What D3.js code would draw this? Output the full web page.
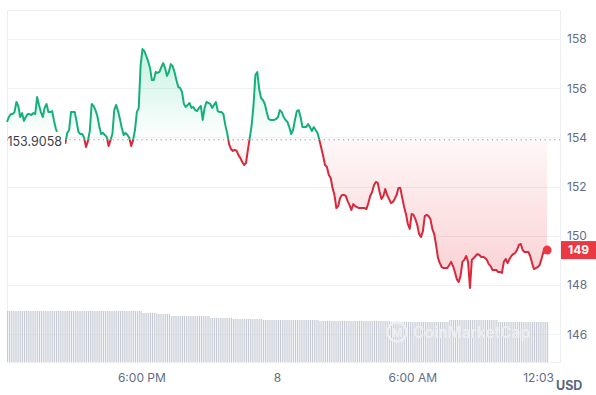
<!DOCTYPE html>
<html>
<head>
<meta charset="utf-8">
<script src="https://cdn.jsdelivr.net/npm/d3@7"></script>
<style>
body { margin: 0; background: #fff; }
svg { display: block; font-family: Inter, "Noto Sans", sans-serif; }
</style>
</head>
<body>
<div id="chart"></div>
<script>
// chart data
let startTime = new Date(2024, 5, 7, 12, 3);
let endTime = new Date(2024, 5, 8, 12, 3);
let stepMinutes = 5;
let openPrice = 153.9058;
let lastPriceLabel = '149';
let currency = 'USD';
let watermark = 'CoinMarketCap';

let priceTicks = [146, 148, 150, 152, 154, 156, 158];
let timeTicks = [
    new Date(2024, 5, 7, 18, 0),
    new Date(2024, 5, 8, 0, 0),
    new Date(2024, 5, 8, 6, 0),
    new Date(2024, 5, 8, 12, 3)
];
let timeTickLabels = ['6:00 PM', '8', '6:00 AM', '12:03 PM'];

// price every 5 minutes, one row per hour
let prices = [
    154.63,154.83,154.95,154.95,155.03,155.44,155.28,154.83,154.99,154.67,154.83,154.95,
    154.95,154.91,154.99,154.95,155.64,155.32,155.03,154.83,155.20,155.36,155.03,155.03,
    155.07,154.67,154.34,154.14,153.98,153.85,153.77,153.77,154.18,154.30,155.03,155.03,
    155.03,154.63,154.22,154.14,154.14,153.98,153.61,153.85,154.26,155.36,155.28,155.11,
    154.87,154.46,154.14,154.18,154.10,154.02,153.65,153.89,154.14,155.11,155.32,155.07,
    154.75,154.38,154.10,154.18,154.10,153.98,153.65,153.89,154.30,155.03,155.20,156.94,
    157.59,157.51,157.31,157.10,156.82,156.33,156.33,156.66,156.62,156.66,156.86,157.02,
    156.82,156.50,156.66,156.98,156.90,156.66,156.33,156.05,156.01,155.85,155.36,155.24,
    155.32,155.40,155.20,155.24,155.11,155.07,155.20,155.28,154.71,155.20,155.44,155.40,
    155.36,155.20,155.32,155.44,155.07,155.03,155.03,154.95,154.50,154.18,153.73,153.53,
    153.45,153.49,153.45,153.28,153.16,153.00,152.88,152.96,153.49,153.98,154.50,155.32,
    156.54,156.66,155.97,155.60,155.52,155.36,155.03,154.75,154.71,154.71,154.71,154.75,
    154.83,155.11,155.03,154.83,154.71,154.63,154.42,154.14,154.30,154.71,155.07,155.11,
    154.83,154.42,154.42,154.42,154.54,154.42,154.26,154.42,154.30,154.18,153.89,153.57,
    153.24,152.88,152.80,152.47,152.35,151.94,151.66,151.13,151.21,151.54,151.66,151.66,
    151.62,151.41,151.25,151.05,151.29,151.21,151.17,151.13,151.13,151.13,151.13,151.09,
    151.33,151.62,151.78,152.06,152.19,152.15,151.78,151.50,151.62,151.90,151.66,151.50,
    151.33,151.37,151.50,151.66,151.94,151.94,151.54,151.17,150.89,150.48,150.28,150.89,
    150.85,150.68,150.44,150.07,149.95,150.19,150.80,150.85,150.80,150.68,150.28,150.07,
    149.63,149.10,148.89,148.73,148.69,148.69,148.69,148.81,148.94,148.77,148.53,148.24,
    148.12,148.37,148.94,149.02,149.18,148.94,147.88,149.02,149.10,149.18,149.26,149.22,
    149.14,149.14,149.10,149.02,148.85,148.77,148.61,148.61,148.61,148.53,148.53,148.49,
    148.94,149.06,148.89,149.06,149.18,149.26,149.30,149.42,149.63,149.67,149.42,149.34,
    149.34,149.34,149.18,148.89,148.65,148.69,148.73,148.81,149.06,149.34,149.46,149.42
];

// volume bars every 5 minutes (arbitrary units)
let volumes = [
    51,51,51,51,51,51,51,51,51,51,51,51,
    51,51,51,51,51,51,51,51,51,51,51,51,
    51,51,51,51,51,51,51,51,51,51,51,51,
    51,51,51,51,51,51,51,51,51,51,51,51,
    51,51,51,51,51,51,51,51,51,51,51,51,
    51,51,51,51,51,51,51,51,51,51,51,51,
    49,49,49,49,49,49,49,49,48,48,48,48,
    48,48,48,46,46,46,46,46,46,46,46,46,
    46,46,46,46,46,46,46,46,46,46,46,46,
    44,44,44,44,44,44,44,44,44,44,44,44,
    43,43,43,43,43,43,43,43,43,43,43,43,
    43,43,43,43,42,42,42,42,42,42,42,42,
    42,42,42,42,42,42,42,42,42,42,42,42,
    42,42,42,42,42,42,42,42,42,42,41,41,
    41,41,41,41,41,41,41,41,41,41,41,41,
    41,41,41,41,41,41,41,41,41,41,41,41,
    41,41,41,41,41,41,41,41,41,41,41,41,
    40,40,40,40,40,40,40,40,40,40,40,40,
    40,40,40,40,40,40,40,40,40,40,40,40,
    40,40,40,40,40,40,40,42,42,42,42,42,
    42,42,42,42,42,42,42,42,42,42,42,42,
    42,42,42,42,42,42,42,42,42,40,40,40,
    40,40,40,40,40,40,40,40,40,40,40,40,
    40,40,40,40,40,40,40,40,40,40,40,40
];

let green = '#16c784';
let greenLine = '#14b07c';
let red = '#ea3943';
let redLine = '#d9283a';
let labelColor = '#616e85';

let svgWidth = 596;
let svgHeight = 395;
let plot = { left: 7, right: 560, top: 10, bottom: 362 };

let svg = d3.select('#chart')
    .append('svg')
    .attr('width', svgWidth)
    .attr('height', svgHeight);

let data = prices.map((p, i) => ({ t: d3.timeMinute.offset(startTime, i * stepMinutes), p: p }));
let volData = volumes.map((v, i) => ({ t: d3.timeMinute.offset(startTime, i * stepMinutes), v: v }));

let x = d3.scaleTime()
    .domain([startTime, endTime])
    .range([7, 549]);

let y = d3.scaleLinear()
    .domain([144.87, 159.18])
    .range([plot.bottom, plot.top]);

let yVol = d3.scaleLinear()
    .domain([0, 60])
    .range([plot.bottom, plot.bottom - 60]);

let yBase = y(openPrice);
let defs = svg.append('defs');

// clip above / below the open price
defs.append('clipPath').attr('id', 'clipUp')
    .append('rect').attr('x', 0).attr('y', 0).attr('width', svgWidth).attr('height', yBase);
defs.append('clipPath').attr('id', 'clipDown')
    .append('rect').attr('x', 0).attr('y', yBase).attr('width', svgWidth).attr('height', svgHeight - yBase);

let gUp = defs.append('linearGradient').attr('id', 'gradUp')
    .attr('gradientUnits', 'userSpaceOnUse')
    .attr('x1', 0).attr('x2', 0)
    .attr('y1', y(d3.max(prices))).attr('y2', yBase);
gUp.append('stop').attr('offset', 0).attr('stop-color', green).attr('stop-opacity', 0.24);
gUp.append('stop').attr('offset', 1).attr('stop-color', green).attr('stop-opacity', 0.0);

let gDown = defs.append('linearGradient').attr('id', 'gradDown')
    .attr('gradientUnits', 'userSpaceOnUse')
    .attr('x1', 0).attr('x2', 0)
    .attr('y1', yBase).attr('y2', y(d3.min(prices)));
gDown.append('stop').attr('offset', 0).attr('stop-color', red).attr('stop-opacity', 0.04);
gDown.append('stop').attr('offset', 1).attr('stop-color', red).attr('stop-opacity', 0.24);

// grid lines
svg.append('g')
    .selectAll('line')
    .data(priceTicks)
    .join('line')
    .attr('x1', plot.left)
    .attr('x2', plot.right)
    .attr('y1', d => Math.round(y(d)) + 0.5)
    .attr('y2', d => Math.round(y(d)) + 0.5)
    .attr('stroke', '#eff1f4');

svg.append('rect')
    .attr('x', plot.left + 0.5)
    .attr('y', plot.top + 0.5)
    .attr('width', plot.right - plot.left)
    .attr('height', plot.bottom - plot.top)
    .attr('fill', 'none')
    .attr('stroke', '#eceef2');

// volume bars
svg.append('g')
    .selectAll('rect')
    .data(volData)
    .join('rect')
    .attr('x', d => x(d.t))
    .attr('width', 1.1)
    .attr('y', d => yVol(d.v))
    .attr('height', d => plot.bottom - yVol(d.v))
    .attr('fill', '#c6cbd4');

// watermark
let wm = svg.append('g');
wm.append('circle')
    .attr('cx', 397).attr('cy', 332).attr('r', 9.5)
    .attr('fill', 'none').attr('stroke', '#eceef1').attr('stroke-width', 2.4);
wm.append('text')
    .attr('x', 397).attr('y', 336.5)
    .attr('text-anchor', 'middle')
    .attr('font-size', 12).attr('font-weight', 700)
    .attr('fill', '#eceef1')
    .text('M');
wm.append('text')
    .attr('x', 413).attr('y', 338)
    .attr('font-size', 15.5).attr('font-weight', 600)
    .attr('fill', '#eceef1')
    .text(watermark);

// areas
let area = d3.area()
    .x(d => x(d.t))
    .y0(yBase)
    .y1(d => y(d.p));

svg.append('path').datum(data)
    .attr('clip-path', 'url(#clipUp)')
    .attr('d', area)
    .attr('fill', 'url(#gradUp)');
svg.append('path').datum(data)
    .attr('clip-path', 'url(#clipDown)')
    .attr('d', area)
    .attr('fill', 'url(#gradDown)');

// open price dotted line
svg.append('line')
    .attr('x1', plot.left)
    .attr('x2', plot.right)
    .attr('y1', yBase)
    .attr('y2', yBase)
    .attr('stroke', '#8a919c')
    .attr('stroke-width', 1)
    .attr('stroke-dasharray', '1.2,3.6');

// price line
let line = d3.line()
    .x(d => x(d.t))
    .y(d => y(d.p));

svg.append('path').datum(data)
    .attr('clip-path', 'url(#clipUp)')
    .attr('d', line)
    .attr('fill', 'none')
    .attr('stroke', greenLine)
    .attr('stroke-width', 2)
    .attr('stroke-linejoin', 'round');
svg.append('path').datum(data)
    .attr('clip-path', 'url(#clipDown)')
    .attr('d', line)
    .attr('fill', 'none')
    .attr('stroke', redLine)
    .attr('stroke-width', 2)
    .attr('stroke-linejoin', 'round');

// open price label
svg.append('rect')
    .attr('x', plot.left + 1)
    .attr('y', yBase - 8)
    .attr('width', 57)
    .attr('height', 17)
    .attr('fill', '#fff');
svg.append('text')
    .attr('x', 62)
    .attr('y', yBase + 1.5)
    .attr('dy', '0.35em')
    .attr('text-anchor', 'end')
    .attr('font-size', 12.5)
    .attr('fill', '#3a3f47')
    .text(openPrice.toFixed(4));

// last point
let last = data[data.length - 1];
svg.append('circle')
    .attr('cx', x(last.t))
    .attr('cy', y(last.p))
    .attr('r', 4.5)
    .attr('fill', red);

// right axis
let yAxis = svg.append('g')
    .attr('transform', `translate(${plot.right}, 0)`)
    .call(d3.axisRight(y).tickValues(priceTicks).tickSize(0).tickPadding(7));
yAxis.select('.domain').remove();
yAxis.selectAll('text')
    .attr('font-size', 12)
    .attr('font-family', 'Inter, sans-serif')
    .attr('fill', labelColor);

// bottom axis
let xAxis = svg.append('g')
    .attr('transform', `translate(0, ${plot.bottom})`)
    .call(d3.axisBottom(x).tickValues(timeTicks).tickFormat((d, i) => timeTickLabels[i]).tickSize(0).tickPadding(11));
xAxis.select('.domain').remove();
xAxis.selectAll('text')
    .attr('font-size', 12)
    .attr('font-family', 'Inter, sans-serif')
    .attr('fill', labelColor);

// last price box
svg.append('rect')
    .attr('x', plot.right + 1)
    .attr('y', y(last.p) - 9)
    .attr('width', 35)
    .attr('height', 18)
    .attr('fill', red);
svg.append('text')
    .attr('x', plot.right + 18.5)
    .attr('y', y(last.p))
    .attr('dy', '0.36em')
    .attr('text-anchor', 'middle')
    .attr('font-size', 12)
    .attr('font-weight', 700)
    .attr('fill', '#fff')
    .text(lastPriceLabel);

// currency label (sits over the end of the last time label, as in the source)
svg.append('rect')
    .attr('x', 556)
    .attr('y', 369)
    .attr('width', 40)
    .attr('height', 26)
    .attr('fill', '#fff');
svg.append('text')
    .attr('x', 556)
    .attr('y', 390)
    .attr('font-size', 12.5)
    .attr('font-weight', 700)
    .attr('fill', '#58667e')
    .text(currency);
</script>
</body>
</html>
